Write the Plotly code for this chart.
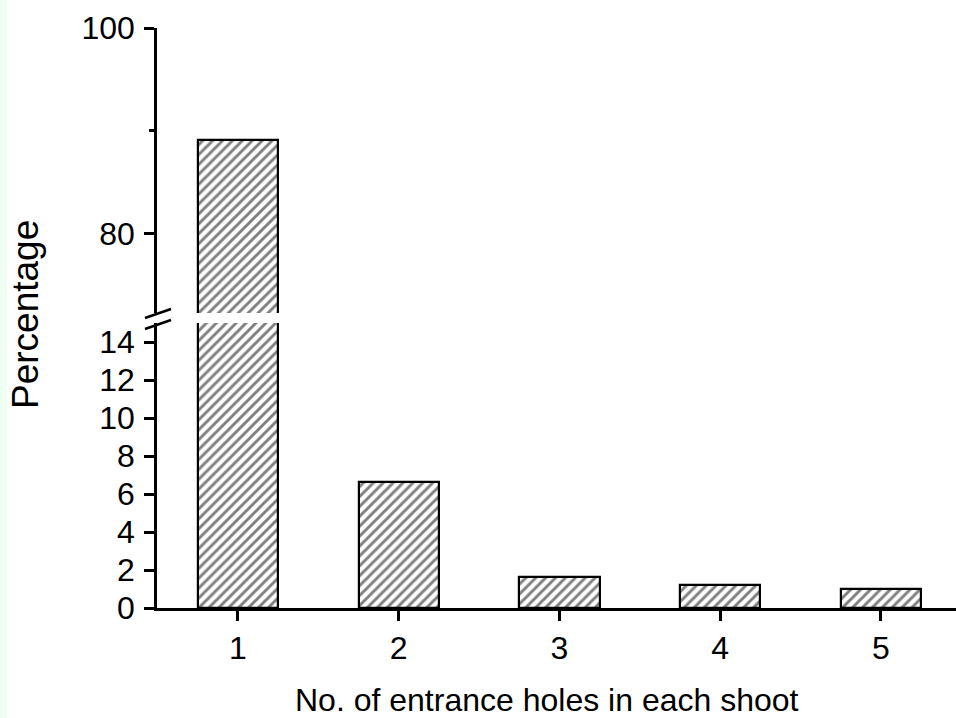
import plotly.graph_objects as go

# ---- data ----
categories = [1, 2, 3, 4, 5]
tick_labels = ["1", "2", "3", "4", "5"]
percentages = [89.1, 6.65, 1.65, 1.2, 1.0]
lower_range = [0, 15]
upper_range = [72.3, 100]

W, H = 956, 718
L, R, T, B = 157, 0, 28, 110
pw, ph = W - L - R, H - T - B

def px_x(p):
    return (p - L) / pw

def px_y(p):
    return (H - B - p) / ph

FONT = "Liberation Sans, Arial, sans-serif"

bar_style = dict(
    color="white",
    line=dict(color="black", width=2.2),
    pattern=dict(shape="/", fgcolor="black", bgcolor="white", size=7, solidity=0.42),
)

fig = go.Figure()
fig.add_trace(go.Bar(x=categories, y=percentages, width=0.5, marker=bar_style,
                     xaxis="x", yaxis="y", showlegend=False))
fig.add_trace(go.Bar(x=categories, y=percentages, width=0.5, marker=bar_style,
                     xaxis="x", yaxis="y2", showlegend=False))

lower_top = 323
upper_bot = 313

axis_common = dict(
    showline=True, linecolor="black", linewidth=2.5, ticks="outside",
    ticklen=10, tickwidth=2.5, tickcolor="black", showgrid=False, zeroline=False,
    tickfont=dict(family=FONT, size=32, color="black"),
)

fig.update_layout(
    width=W, height=H,
    margin=dict(l=L, r=R, t=T, b=B),
    paper_bgcolor="white", plot_bgcolor="white",
    bargap=0,
    xaxis=dict(
        range=[0.496, 5.468], tickvals=categories, ticktext=tick_labels,
        anchor="y", **axis_common,
    ),
    yaxis=dict(
        domain=[0, px_y(lower_top)], range=lower_range, tickvals=list(range(0, 15, 2)),
        anchor="x", ticklabelstandoff=3, **axis_common,
    ),
    yaxis2=dict(
        domain=[px_y(upper_bot), 1], range=upper_range, tickvals=[80, 100],
        minor=dict(tickvals=[90], ticks="outside", ticklen=5, tickwidth=2.5, tickcolor="black"),
        anchor="x", ticklabelstandoff=3, **axis_common,
    ),
)

# break marks on the y axis
for y0, y1 in [(318, 309), (329, 320)]:
    fig.add_shape(type="line", xref="paper", yref="paper",
                  x0=px_x(145), x1=px_x(171), y0=px_y(y0), y1=px_y(y1),
                  line=dict(color="black", width=2.5))

# left light-green strip
fig.add_shape(type="rect", xref="paper", yref="paper", layer="below",
              x0=px_x(0), x1=px_x(7), y0=px_y(H), y1=px_y(0),
              fillcolor="#effff4", line=dict(width=0))

fig.add_annotation(text="Percentage", xref="paper", yref="paper",
                   x=px_x(25), y=px_y(315), textangle=-90, showarrow=False,
                   xanchor="center", yanchor="middle",
                   font=dict(family=FONT, size=37, color="black"))
fig.add_annotation(text="No. of entrance holes in each shoot", xref="paper", yref="paper",
                   x=px_x(547), y=px_y(700), showarrow=False,
                   xanchor="center", yanchor="middle",
                   font=dict(family=FONT, size=32, color="black"))

fig.write_html("out.html",
               config={"displayModeBar": False},
               post_script="document.body.style.margin='0';document.body.style.overflow='hidden';")
